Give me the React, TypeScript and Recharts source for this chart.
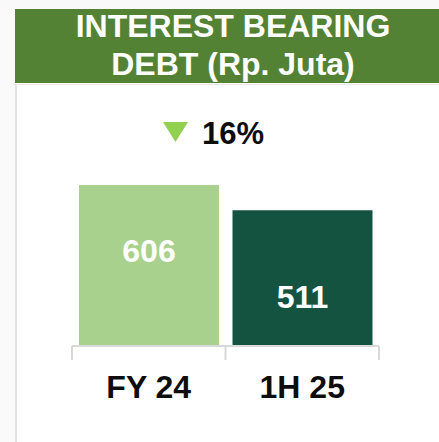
import React from 'react';
import { BarChart, Bar, XAxis, YAxis, Cell, LabelList } from 'recharts';

const categories = ['FY 24', '1H 25'];
const debtValues = [606, 511];
const changeText = '16%';
const titleLines = ['INTEREST BEARING', 'DEBT (Rp. Juta)'];

const W = 439;
const H = 442;
const FONT = '"Liberation Sans", Arial, Helvetica, sans-serif';
const barColors = ['#a9d18e', '#14533f'];
const labelFrac = [0.478, 0.72];
const margin = { top: 160, right: 60, bottom: 36, left: 72 };
const bandHalf = (W - margin.left - margin.right) / categories.length / 2;

const data = categories.map((c, i) => ({ name: c, value: debtValues[i] }));

const CategoryTick = (props: any) => {
  const { x, y, payload, index } = props;
  const last = index === categories.length - 1;
  return (
    <g>
      <line x1={x - bandHalf} x2={x - bandHalf} y1={y} y2={y + 14} stroke="#d9d9d9" strokeWidth={2} />
      {last && (
        <line x1={x + bandHalf} x2={x + bandHalf} y1={y} y2={y + 14} stroke="#d9d9d9" strokeWidth={2} />
      )}
      <text x={x} y={y + 52} textAnchor="middle" fontFamily={FONT} fontWeight="bold" fontSize={32} fill="#0d0d0d">
        {payload.value}
      </text>
    </g>
  );
};

const ValueLabel = (props: any) => {
  const { x, y, width, height, value, index } = props;
  return (
    <text
      x={x + width / 2}
      y={y + height * labelFrac[index]}
      textAnchor="middle"
      fontFamily={FONT}
      fontWeight="bold"
      fontSize={32}
      fill="#ffffff"
    >
      {value}
    </text>
  );
};

export default function App() {
  return (
    <div style={{ position: 'absolute', left: 0, top: 0, width: W, height: H, overflow: 'hidden', background: '#ffffff' }}>
      <svg width={W} height={H} style={{ position: 'absolute', left: 0, top: 0 }}>
        <rect x={0} y={0} width={W} height={H} fill="#ffffff" />
        <rect x={0} y={0} width={15} height={H} fill="#fafafa" />
        <rect x={0} y={0} width={W} height={9} fill="#f9f9f9" />
        <rect x={15} y={84} width={2} height={H - 84} fill="#e3e3e3" />
        <rect x={15} y={84} width={W - 15} height={1} fill="#e8e8e8" />
        <rect x={15} y={9} width={W - 15} height={74} fill="#548235" />
        {titleLines.map((t, i) => (
          <text
            key={t}
            x={233}
            y={37 + i * 38}
            textAnchor="middle"
            fontFamily={FONT}
            fontWeight="bold"
            fontSize={32}
            fill="#ffffff"
          >
            {t}
          </text>
        ))}
        <polygon points="163,122 188,122 175.5,142" fill="#92d050" />
        <text x={202} y={144} fontFamily={FONT} fontWeight="bold" fontSize={31} fill="#0d0d0d">
          {changeText}
        </text>
      </svg>
      <div style={{ position: 'absolute', left: 0, top: 0 }}>
        <BarChart width={W} height={H} data={data} margin={margin} barSize={140}>
          <YAxis hide domain={[0, 700]} />
          <XAxis
            dataKey="name"
            height={60}
            tickSize={0}
            tickMargin={0}
            tickLine={false}
            axisLine={{ stroke: '#d9d9d9', strokeWidth: 2 }}
            tick={<CategoryTick />}
            interval={0}
          />
          <Bar dataKey="value" isAnimationActive={false}>
            {data.map((d, i) => (
              <Cell key={d.name} fill={barColors[i]} />
            ))}
            <LabelList dataKey="value" content={<ValueLabel />} />
          </Bar>
        </BarChart>
      </div>
    </div>
  );
}
